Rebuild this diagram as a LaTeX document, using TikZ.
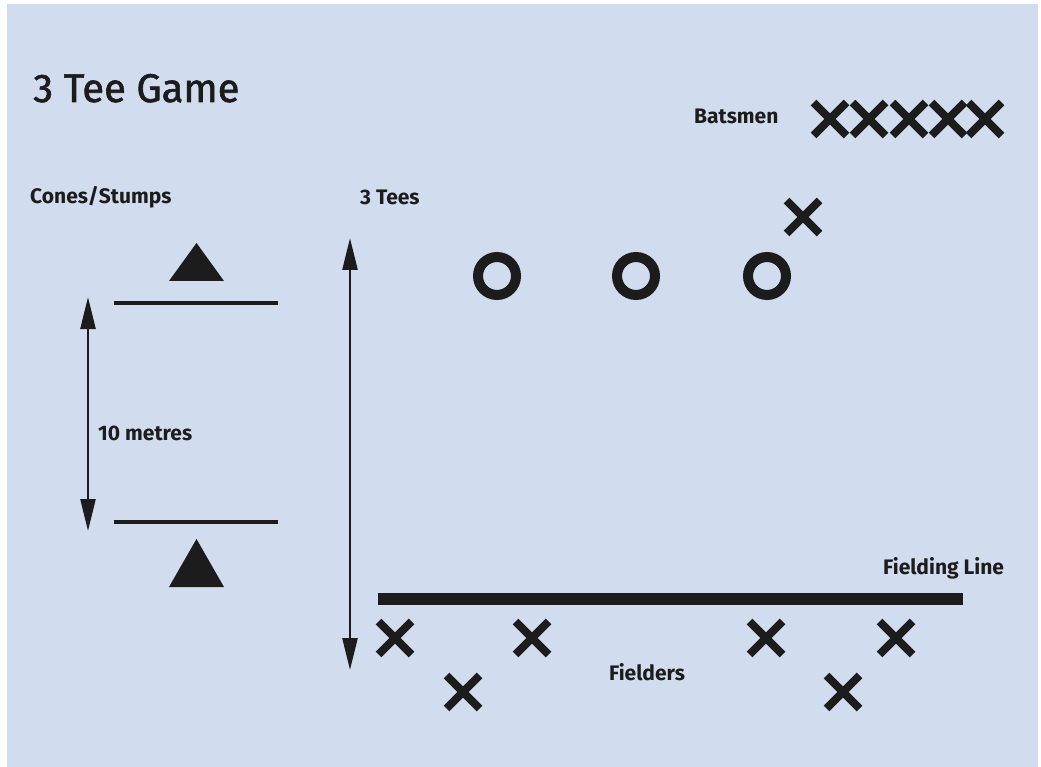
\documentclass[tikz,border=0pt]{standalone}
\usepackage{fontspec}
\setmainfont{Fira Sans}
\usepackage{xcolor}
\usepackage{tikz}
\usetikzlibrary{arrows.meta,shapes.misc}
\definecolor{pitch}{HTML}{D1DCEE}
\definecolor{ink}{HTML}{1C1C1C}

\begin{document}
\begin{tikzpicture}[
    x=1pt, y=-1pt,
    >={Triangle[length=32pt,width=15pt]},
    sign/.style={font=\fontsize{21}{24}\selectfont\bfseries, text=ink, inner sep=0pt, anchor=west},
    player/.style={cross out, draw=ink, line width=8pt, minimum size=25pt, inner sep=0pt},
    tee/.style={circle, draw=ink, line width=10pt, minimum size=38pt, inner sep=0pt},
    marker/.style={draw=ink, line width=4pt},
    measure/.style={<->, draw=ink, line width=2.5pt}
]
\useasboundingbox (0,0) rectangle (1041,767);
\fill[white] (0,0) rectangle (1041,767);
\fill[pitch] (7,4) rectangle (1038,767);

% titles and labels
\node[font=\fontsize{40}{44}\selectfont\addfontfeatures{FakeBold=1.5}, text=ink, inner sep=0pt, anchor=base west] (title) at (33,102) {3 Tee Game};
\node[sign] (batlbl) at (694,116) {Batsmen};
\node[sign] (conelbl) at (30,197) {Cones/Stumps};
\node[sign] (teelbl) at (360,197) {3 Tees};
\node[sign] (dist) at (98,433) {10 metres};
\node[sign] (fieldlbl) at (883,568) {Fielding Line};
\node[sign, anchor=center] (fldrs) at (647,672) {Fielders};

% batsmen waiting and on strike
\foreach \x [count=\i] in {830,869,909,948,985}
    \node[player] (bat\i) at (\x,119) {};
\node[player] (striker) at (803,217) {};

% the three tees
\node[tee] (tee1) at (497,276) {};
\node[tee] (tee2) at (636,276) {};
\node[tee] (tee3) at (767,276) {};

% cones and stump lines
\fill[ink] (169,281) -- (196.5,243) -- (224,281) -- cycle;
\fill[ink] (169,587) -- (196.5,539) -- (224,587) -- cycle;
\coordinate (lineTopL) at (114,303);
\coordinate (lineTopR) at (278,303);
\coordinate (lineBotL) at (114,522);
\coordinate (lineBotR) at (278,522);
\draw[marker] (lineTopL) -- (lineTopR);
\draw[marker] (lineBotL) -- (lineBotR);

% distance arrows
\coordinate (gapTop) at (88,297);
\coordinate (gapBot) at (88,531);
\coordinate (runTop) at (350,238);
\coordinate (runBot) at (350,670);
\draw[measure] (gapTop) -- (gapBot);
\draw[measure] (runTop) -- (runBot);

% fielding line and fielders
\coordinate (fieldL) at (378,599);
\coordinate (fieldR) at (963,599);
\draw[ink, line width=12pt] (fieldL) -- (fieldR);
\node[player] (f1) at (395,638) {};
\node[player] (f2) at (532,638) {};
\node[player] (f3) at (766,638) {};
\node[player] (f4) at (896,638) {};
\node[player] (f5) at (463,692) {};
\node[player] (f6) at (843,692) {};
\end{tikzpicture}
\end{document}
